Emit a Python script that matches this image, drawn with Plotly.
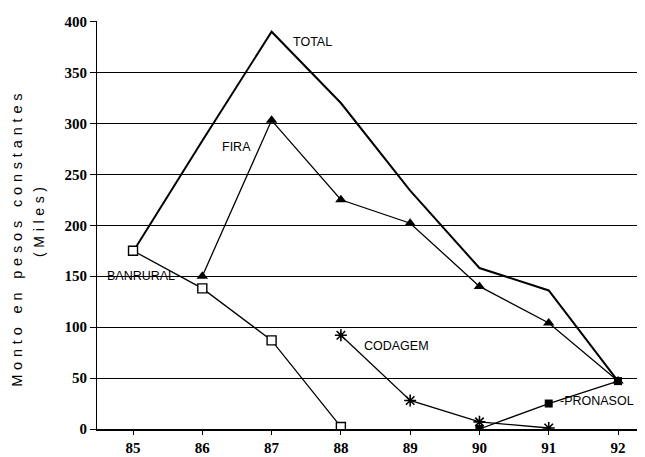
import plotly.graph_objects as go

years = [85, 86, 87, 88, 89, 90, 91, 92]
year_labels = ["85", "86", "87", "88", "89", "90", "91", "92"]

total_x = [85, 86, 87, 88, 89, 90, 91, 92]
total_y = [174, 283, 390, 320, 234, 158, 136, 47]

fira_x = [86, 87, 88, 89, 90, 91, 92]
fira_y = [150, 303, 225, 202, 140, 104, 47]

banrural_x = [85, 86, 87, 88]
banrural_y = [175, 138, 87, 2]

codagem_x = [88, 89, 90, 91]
codagem_y = [92, 28, 7, 1]

pronasol_x = [90, 91, 92]
pronasol_y = [0, 25, 47]

y_ticks = [0, 50, 100, 150, 200, 250, 300, 350, 400]

# page body has an 8px margin; figure sized to fill the rest of the 645x457 window
OFF = 8
W, H = 645 - OFF, 457 - OFF
PL, PR, PT, PB = 97, 644, 21, 433          # plot area in window pixels
ml, mr, mt, mb = PL - OFF, 645 - PR, PT - OFF, 457 - PB
pw, ph = PR - PL, PB - PT

fig = go.Figure()

fig.add_trace(go.Scatter(x=total_x, y=total_y, mode="lines",
                         line=dict(color="black", width=2), name="TOTAL"))
fig.add_trace(go.Scatter(x=fira_x, y=fira_y, mode="lines+markers",
                         line=dict(color="black", width=1.3),
                         marker=dict(symbol="triangle-up", size=10, color="black"),
                         name="FIRA"))
fig.add_trace(go.Scatter(x=banrural_x, y=banrural_y, mode="lines+markers",
                         line=dict(color="black", width=1.3),
                         marker=dict(symbol="square", size=9, color="white",
                                     line=dict(color="black", width=1.4)),
                         name="BANRURAL"))
fig.add_trace(go.Scatter(x=codagem_x, y=codagem_y, mode="lines+markers",
                         line=dict(color="black", width=1.3),
                         marker=dict(symbol="asterisk-open", size=10,
                                     line=dict(color="black", width=1.6)),
                         name="CODAGEM"))
fig.add_trace(go.Scatter(x=pronasol_x, y=pronasol_y, mode="lines+markers",
                         line=dict(color="black", width=1.3),
                         marker=dict(symbol="square", size=8, color="black"),
                         name="PRONASOL"))

lab_font = dict(family="Liberation Sans, Arial", size=12.5, color="black")
# (text, anchor x, anchor y, xanchor, xshift, yshift)
labels = [
    ("TOTAL", 87, 390, "left", 19, -10),
    ("FIRA", 87, 303, "right", -19, -27),
    ("BANRURAL-", 85, 150, "left", -28, 0),
    ("CODAGEM", 88, 92, "left", 21, -11),
    ("-PRONASOL", 91, 25, "left", 9, 3),
]
for t, lx, ly, xa, xs, ys in labels:
    fig.add_annotation(x=lx, y=ly, text=t, showarrow=False, font=lab_font,
                       xref="x", yref="y", xanchor=xa, yanchor="middle",
                       xshift=xs, yshift=ys)

sp = "\u2004"
def spaced(s):
    return sp.join(list(s))

title1 = spaced("Monto en pesos constantes")
title2 = spaced("(Miles)")
for txt, wx, wy, fs in [(title1, 17, 243, 14.5), (title2, 39, 224, 14)]:
    fig.add_annotation(x=(wx - PL) / pw, y=(PB - wy) / ph, xref="paper", yref="paper",
                       text=txt, textangle=-90, showarrow=False,
                       xanchor="center", yanchor="middle",
                       font=dict(family="Liberation Sans, Arial", size=fs, color="black"))

fig.update_layout(
    width=W, height=H,
    margin=dict(l=ml, r=mr, t=mt, b=mb),
    paper_bgcolor="white", plot_bgcolor="white",
    showlegend=False,
)

fig.update_xaxes(range=[84.48, 92.375], tickmode="array", tickvals=years,
                 ticktext=year_labels,
                 showgrid=False, zeroline=False, showline=True,
                 linecolor="black", linewidth=1.5,
                 ticks="outside", ticklen=4, tickcolor="black",
                 tickfont=dict(family="Liberation Serif", size=15, color="black",
                               weight="bold"))
fig.update_yaxes(range=[0, 400.5], tickmode="array", tickvals=y_ticks,
                 showgrid=True, gridcolor="black", gridwidth=1,
                 zeroline=False, showline=True, linecolor="black", linewidth=1.2,
                 ticks="outside", ticklen=6, tickcolor="black",
                 tickfont=dict(family="Liberation Serif", size=15, color="black",
                               weight="bold"))

fig.write_html("out.html")
